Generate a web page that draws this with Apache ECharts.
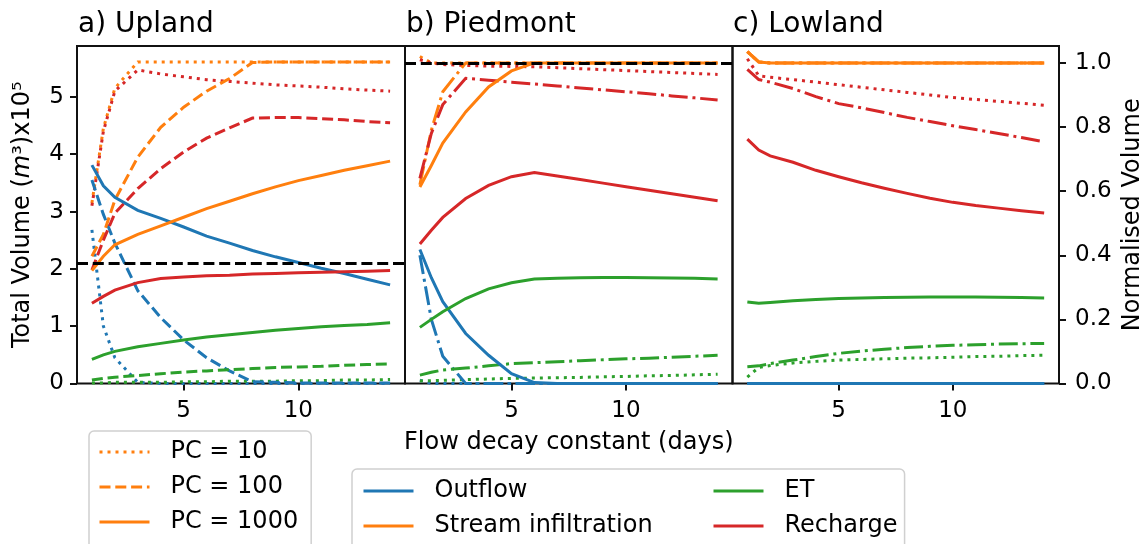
<!DOCTYPE html>
<html><head><meta charset="utf-8">
<script src="https://cdn.jsdelivr.net/npm/echarts@6/dist/echarts.min.js"></script>
<style>html,body{margin:0;padding:0;background:#fff}#c{width:1146px;height:544px}</style>
</head><body><div id="c"></div>
<script>
// ---------- data ----------
const xDays = [1,1.5,2,3,4,5,6,7,8,9,10,11,12,13,14];
const panelTitles = ['a) Upland','b) Piedmont','c) Lowland'];
const componentNames = ['Outflow','Stream infiltration','ET','Recharge'];
const pcLabels = ['PC = 10','PC = 100','PC = 1000'];
const xTickValues = [5,10];
const yTickVolume = [0,1,2,3,4,5];
const yTickNorm = [0,0.2,0.4,0.6,0.8,1.0];
const uplandLevel = 2.1;
const piedmontLevel = 1.0;

// a) Upland, total volume (m3 x 1e5)
const upOutflow10   = [2.68,1.00,0.45,0.02,0,0,0,0,0,0,0,0,0,0,0];
const upInfil10     = [3.15,4.45,5.15,5.61,5.61,5.61,5.61,5.61,5.61,5.61,5.61,5.61,5.61,5.61,5.61];
const upET10        = [0.01,0.01,0.02,0.02,0.02,0.03,0.03,0.04,0.04,0.04,0.05,0.05,0.06,0.06,0.07];
const upRech10      = [3.10,4.40,5.10,5.47,5.40,5.35,5.30,5.27,5.24,5.21,5.19,5.17,5.14,5.12,5.10];
const upOutflow100  = [3.55,2.95,2.45,1.62,1.15,0.76,0.45,0.22,0.03,0.02,0.01,0.01,0.01,0.01,0.01];
const upInfil100    = [2.22,2.60,3.20,3.95,4.47,4.82,5.10,5.32,5.60,5.61,5.61,5.61,5.61,5.61,5.61];
const upET100       = [0.06,0.09,0.11,0.14,0.17,0.20,0.22,0.24,0.26,0.28,0.29,0.30,0.32,0.33,0.34];
const upRech100     = [1.98,2.50,2.97,3.40,3.75,4.04,4.28,4.46,4.63,4.64,4.64,4.62,4.60,4.57,4.55];
const upOutflow1000 = [3.81,3.45,3.25,3.02,2.88,2.73,2.57,2.45,2.32,2.21,2.11,2.01,1.92,1.82,1.72];
const upInfil1000   = [1.97,2.22,2.42,2.60,2.75,2.90,3.05,3.18,3.31,3.43,3.54,3.63,3.72,3.80,3.88];
const upET1000      = [0.42,0.50,0.56,0.64,0.70,0.76,0.81,0.85,0.89,0.93,0.96,0.99,1.01,1.03,1.06];
const upRech1000    = [1.40,1.52,1.63,1.76,1.83,1.86,1.88,1.89,1.91,1.92,1.93,1.94,1.95,1.96,1.97];

// b) Piedmont, normalised volume
const pdOutflow10   = [0.01,0,0,0,0,0,0,0,0,0,0,0,0,0,0];
const pdInfil10     = [1.02,1.0,1.0,1.0,1.0,1.0,1.0,1.0,1.0,1.0,1.0,1.0,1.0,1.0,1.0];
const pdET10        = [0.008,0.009,0.010,0.012,0.014,0.016,0.017,0.018,0.019,0.021,0.022,0.024,0.025,0.027,0.029];
const pdRech10      = [1.01,1.0,0.995,0.992,0.99,0.989,0.988,0.985,0.982,0.979,0.976,0.973,0.970,0.967,0.964];
const pdOutflow100  = [0.40,0.20,0.085,0,0,0,0,0,0,0,0,0,0,0,0];
const pdInfil100    = [0.62,0.79,0.91,1.0,1.0,1.0,1.0,1.0,1.0,1.0,1.0,1.0,1.0,1.0,1.0];
const pdET100       = [0.026,0.035,0.042,0.048,0.055,0.062,0.065,0.068,0.071,0.074,0.077,0.079,0.082,0.085,0.088];
const pdRech100     = [0.64,0.78,0.87,0.952,0.946,0.94,0.934,0.928,0.922,0.916,0.91,0.904,0.897,0.891,0.884];
const pdOutflow1000 = [0.418,0.33,0.255,0.156,0.088,0.031,0.003,0,0,0,0,0,0,0,0];
const pdInfil1000   = [0.613,0.68,0.75,0.847,0.925,0.975,1.0,1.0,1.0,1.0,1.0,1.0,1.0,1.0,1.0];
const pdET1000      = [0.175,0.2,0.224,0.265,0.295,0.314,0.326,0.328,0.33,0.331,0.331,0.33,0.329,0.328,0.326];
const pdRech1000    = [0.435,0.478,0.518,0.577,0.618,0.645,0.658,0.647,0.636,0.625,0.614,0.603,0.592,0.581,0.570];

// c) Lowland, normalised volume
const lwOutflow10   = [0,0,0,0,0,0,0,0,0,0,0,0,0,0,0];
const lwInfil10     = [1.035,1.003,1.0,1.0,1.0,1.0,1.0,1.0,1.0,1.0,1.0,1.0,1.0,1.0,1.0];
const lwET10        = [0.02,0.05,0.056,0.064,0.069,0.073,0.075,0.077,0.079,0.08,0.082,0.084,0.085,0.087,0.088];
const lwRech10      = [1.013,0.96,0.955,0.948,0.94,0.932,0.924,0.916,0.908,0.9,0.892,0.886,0.88,0.874,0.868];
const lwOutflow100  = [0,0,0,0,0,0,0,0,0,0,0,0,0,0,0];
const lwInfil100    = [1.035,1.003,1.0,1.0,1.0,1.0,1.0,1.0,1.0,1.0,1.0,1.0,1.0,1.0,1.0];
const lwET100       = [0.052,0.055,0.062,0.073,0.084,0.094,0.101,0.107,0.112,0.116,0.119,0.121,0.123,0.124,0.125];
const lwRech100     = [0.98,0.948,0.94,0.92,0.895,0.873,0.86,0.845,0.83,0.817,0.804,0.792,0.78,0.767,0.754];
const lwOutflow1000 = [0,0,0,0,0,0,0,0,0,0,0,0,0,0,0];
const lwInfil1000   = [1.035,1.003,1.0,1.0,1.0,1.0,1.0,1.0,1.0,1.0,1.0,1.0,1.0,1.0,1.0];
const lwET1000      = [0.254,0.25,0.253,0.258,0.262,0.265,0.267,0.268,0.269,0.27,0.27,0.27,0.269,0.268,0.267];
const lwRech1000    = [0.762,0.728,0.71,0.69,0.665,0.645,0.626,0.609,0.593,0.578,0.565,0.555,0.547,0.539,0.532];

// ---------- styling ----------
const FONT = 'DejaVu Sans';
const colors = ['#1f77b4','#ff7f0e','#2ca02c','#d62728'];
const LW = 3;
const DASH = {
  dotted: [3, 5],
  dashed: [11, 4.8],
  dashdot: [19, 4.8, 3, 4.8],
  solid: 'solid'
};
const panelStyles = [
  ['dotted','dashed','solid'],
  ['dotted','dashdot','solid'],
  ['dotted','dashdot','solid']
];
const panelData = [
  [[upOutflow10,upInfil10,upET10,upRech10],[upOutflow100,upInfil100,upET100,upRech100],[upOutflow1000,upInfil1000,upET1000,upRech1000]],
  [[pdOutflow10,pdInfil10,pdET10,pdRech10],[pdOutflow100,pdInfil100,pdET100,pdRech100],[pdOutflow1000,pdInfil1000,pdET1000,pdRech1000]],
  [[lwOutflow10,lwInfil10,lwET10,lwRech10],[lwOutflow100,lwInfil100,lwET100,lwRech100],[lwOutflow1000,lwInfil1000,lwET1000,lwRech1000]]
];

const gridTop = 46, gridBottom = 160.5;
const grids = [
  {left: 77, width: 328},
  {left: 405, width: 327.5},
  {left: 732.5, width: 327.5}
].map(g => ({left: g.left, width: g.width, top: gridTop, bottom: gridBottom, show: true,
  borderColor: '#111', borderWidth: 2, backgroundColor: 'transparent', containLabel: false}));

const TICK_FS = 23;
const xAxes = grids.map((g, i) => ({
  type: 'value', gridIndex: i, min: 0.35, max: 14.65,
  splitLine: {show: false},
  axisLine: {show: false},
  axisTick: {show: true, customValues: xTickValues, length: 7, lineStyle: {color: '#111', width: 2}},
  axisLabel: {show: true, customValues: xTickValues, margin: 16, fontSize: TICK_FS, fontFamily: FONT, color: '#000'},
  name: i === 1 ? 'Flow decay constant (days)' : '',
  nameLocation: 'middle', nameGap: 47,
  nameTextStyle: {fontSize: 24, fontFamily: FONT, color: '#000'}
}));

const yAxes = [
  {
    type: 'value', gridIndex: 0, min: 0, max: 5.888, position: 'left',
    splitLine: {show: false}, axisLine: {show: false},
    axisTick: {show: true, customValues: yTickVolume, length: 7, lineStyle: {color: '#111', width: 2}},
    axisLabel: {show: true, customValues: yTickVolume, margin: 13, fontSize: TICK_FS, fontFamily: FONT, color: '#000'},
    name: 'Total Volume ({it|m}³)x10⁵', nameLocation: 'middle', nameRotate: 90, nameGap: 42,
    nameTextStyle: {fontSize: 24, fontFamily: FONT, color: '#000',
      rich: {it: {fontStyle: 'italic', fontSize: 24, fontFamily: FONT, color: '#000'}}}
  },
  {
    type: 'value', gridIndex: 1, min: 0, max: 1.0527,
    splitLine: {show: false}, axisLine: {show: false}, axisTick: {show: false}, axisLabel: {show: false}
  },
  {
    type: 'value', gridIndex: 2, min: 0, max: 1.0527, position: 'right',
    splitLine: {show: false}, axisLine: {show: false},
    axisTick: {show: true, customValues: yTickNorm, length: 7, lineStyle: {color: '#111', width: 2}},
    axisLabel: {show: true, customValues: yTickNorm, margin: 16, fontSize: TICK_FS, fontFamily: FONT, color: '#000',
      formatter: v => Number(v).toFixed(1)},
    name: 'Normalised Volume', nameLocation: 'middle', nameRotate: 90, nameGap: 62,
    nameTextStyle: {fontSize: 24, fontFamily: FONT, color: '#000'}
  }
];

const series = [];
panelData.forEach((pcs, p) => {
  pcs.forEach((comps, k) => {
    comps.forEach((vals, c) => {
      const st = panelStyles[p][k];
      series.push({
        type: 'line', name: `${panelTitles[p]} ${componentNames[c]} ${pcLabels[k]}`,
        xAxisIndex: p, yAxisIndex: p,
        data: xDays.map((x, j) => [x, vals[j]]),
        showSymbol: false, symbol: 'none', silent: true, z: 2,
        lineStyle: {color: colors[c], width: LW, type: DASH[st], cap: 'butt', join: 'miter'},
        itemStyle: {color: colors[c]}
      });
    });
  });
});

// reference level lines
series.push({
  type: 'line', name: 'levelA', xAxisIndex: 0, yAxisIndex: 0, data: [], z: 5,
  markLine: {silent: true, symbol: 'none', label: {show: false}, animation: false,
    lineStyle: {color: '#000', width: 3, type: [11, 4.8]}, data: [{yAxis: uplandLevel}]}
});
series.push({
  type: 'line', name: 'levelB', xAxisIndex: 1, yAxisIndex: 1, data: [], z: 5,
  markLine: {silent: true, symbol: 'none', label: {show: false}, animation: false,
    lineStyle: {color: '#000', width: 3, type: [11, 4.8]}, data: [{yAxis: piedmontLevel}]}
});

// legend proxies
const pcStyles = ['dotted','dashed','solid'];
pcLabels.forEach((lab, k) => series.push({
  type: 'line', name: lab, xAxisIndex: 0, yAxisIndex: 0, data: [], symbol: 'none',
  lineStyle: {color: colors[1], width: LW, type: DASH[pcStyles[k]], cap: 'butt'}, itemStyle: {color: colors[1]}
}));
componentNames.forEach((lab, c) => series.push({
  type: 'line', name: lab, xAxisIndex: 0, yAxisIndex: 0, data: [], symbol: 'none',
  lineStyle: {color: colors[c], width: LW, type: 'solid'}, itemStyle: {color: colors[c]}
}));

const legendText = {fontSize: 24, fontFamily: FONT, color: '#000', lineHeight: 24, padding: [0, 0, 0, 16]};
const legendCommon = {orient: 'vertical', itemWidth: 50, itemHeight: 14, itemGap: 11, height: 200,
  textStyle: legendText, selectedMode: false, itemStyle: {opacity: 0},
  lineStyle: {width: LW, cap: 'butt'}};
const option = {
  animation: false,
  backgroundColor: '#fff',
  title: panelTitles.map((t, i) => ({
    text: t, left: [78, 406, 733][i], top: 11, padding: 0,
    textStyle: {fontSize: 28, fontWeight: 'normal', fontFamily: FONT, color: '#000'}
  })),
  grid: grids,
  xAxis: xAxes,
  yAxis: yAxes,
  legend: [
    Object.assign({}, legendCommon, {data: pcLabels, left: 89, top: 431,
     padding: [9, 13, 40, 9], backgroundColor: '#fff', borderColor: '#d0d0d0', borderWidth: 1.5, borderRadius: 5, z: 6}),
    Object.assign({}, legendCommon, {data: componentNames.slice(0, 2), left: 352, top: 469,
     padding: [10, 252, 40, 10], backgroundColor: '#fff', borderColor: '#d0d0d0', borderWidth: 1.5, borderRadius: 5, z: 6}),
    Object.assign({}, legendCommon, {data: componentNames.slice(2), left: 712, top: 479, padding: 0, z: 7})
  ],
  series: series
};

const chart = echarts.init(document.getElementById('c'), null, {renderer: 'canvas'});
chart.setOption(option);
</script>
</body></html>
